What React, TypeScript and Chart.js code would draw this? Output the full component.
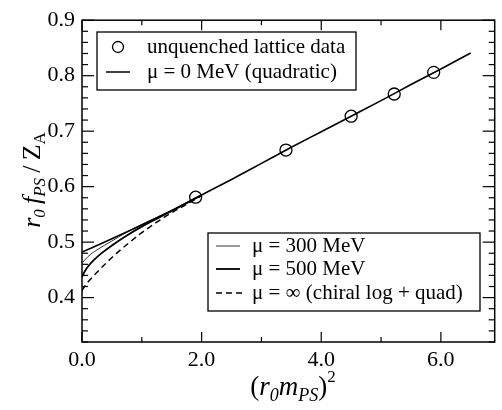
import { useEffect, useRef } from 'react';
import { Chart, registerables } from 'chart.js';

Chart.register(...registerables);

const FONT = '"Liberation Serif", "Times New Roman", serif';

// lattice data points
const dataX = [1.9, 3.41, 4.5, 5.22, 5.88];
const dataY = [0.581, 0.666, 0.727, 0.767, 0.806];

// mu = 0 MeV (quadratic)
const quadX = [0, 0.5, 1.0, 1.5, 2.0, 2.5, 3.0, 3.5, 4.0, 4.5, 5.0, 5.5, 6.0, 6.5];
const quadY = [0.482, 0.506, 0.531, 0.557, 0.585, 0.613, 0.642, 0.671, 0.699, 0.727, 0.755, 0.784, 0.812, 0.841];

// mu = 300 MeV
const mu300X = [0, 0.1, 0.25, 0.5, 0.75, 1.0, 1.5, 2.0];
const mu300Y = [0.462, 0.474, 0.486, 0.502, 0.518, 0.532, 0.557, 0.585];

// mu = 500 MeV
const mu500X = [0, 0.05, 0.1, 0.2, 0.35, 0.5, 0.75, 1.0, 1.5, 2.0];
const mu500Y = [0.437, 0.448, 0.456, 0.468, 0.482, 0.494, 0.512, 0.528, 0.556, 0.585];

// mu = infinity (chiral log + quad)
const infX = [0, 0.05, 0.1, 0.2, 0.4, 0.6, 0.8, 1.0, 1.25, 1.5, 1.75, 2.0];
const infY = [0.413, 0.421, 0.428, 0.44, 0.462, 0.482, 0.5, 0.517, 0.536, 0.553, 0.568, 0.584];

const X_MIN = 0;
const X_MAX = 6.9;
const Y_MIN = 0.32;
const Y_MAX = 0.9;
const X_MAJOR = [0, 2, 4, 6];
const X_MINOR = [1, 3, 5];
const Y_MAJOR = [0.4, 0.5, 0.6, 0.7, 0.8, 0.9];
const Y_MINOR = [0.32, 0.34, 0.36, 0.38, 0.42, 0.44, 0.46, 0.48, 0.52, 0.54, 0.56, 0.58, 0.62, 0.64, 0.66, 0.68, 0.72, 0.74, 0.76, 0.78, 0.82, 0.84, 0.86, 0.88];

const legendTop = ['unquenched lattice data', '\u03bc = 0 MeV (quadratic)'];
const legendBottom = ['\u03bc = 300 MeV', '\u03bc = 500 MeV', '\u03bc = \u221e (chiral log + quad)'];

const zip = (xs: number[], ys: number[]) => xs.map((x, i) => ({ x, y: ys[i] }));

type Piece = { t: string; it: boolean; size: number; dy: number };

function drawPieces(ctx: CanvasRenderingContext2D, pieces: Piece[], cx: number, baseline: number) {
  let total = 0;
  const widths: number[] = [];
  for (const p of pieces) {
    ctx.font = `${p.it ? 'italic ' : ''}${p.size}px ${FONT}`;
    const w = ctx.measureText(p.t).width;
    widths.push(w);
    total += w;
  }
  let x = cx - total / 2;
  ctx.textAlign = 'left';
  ctx.textBaseline = 'alphabetic';
  pieces.forEach((p, i) => {
    ctx.font = `${p.it ? 'italic ' : ''}${p.size}px ${FONT}`;
    ctx.fillText(p.t, x, baseline + p.dy);
    x += widths[i];
  });
}

const overlay = {
  id: 'overlay',
  afterDraw(chart: any) {
    const { ctx, chartArea: a, scales } = chart;
    const xs = scales.x;
    const ys = scales.y;
    ctx.save();
    ctx.strokeStyle = '#000';
    ctx.fillStyle = '#000';
    ctx.lineWidth = 1.5;
    ctx.strokeRect(a.left, a.top, a.right - a.left, a.bottom - a.top);

    const seg = (x1: number, y1: number, x2: number, y2: number) => {
      ctx.beginPath();
      ctx.moveTo(x1, y1);
      ctx.lineTo(x2, y2);
      ctx.stroke();
    };
    ctx.lineWidth = 1.2;
    const xt = (v: number, len: number) => {
      const px = xs.getPixelForValue(v);
      seg(px, a.bottom, px, a.bottom - len);
      seg(px, a.top, px, a.top + len);
    };
    X_MAJOR.forEach((v) => xt(v, 10));
    X_MINOR.forEach((v) => xt(v, 5));
    const yt = (v: number, len: number) => {
      const py = ys.getPixelForValue(v);
      seg(a.left, py, a.left + len, py);
      seg(a.right, py, a.right - len, py);
    };
    Y_MAJOR.forEach((v) => yt(v, 12));
    Y_MINOR.forEach((v) => yt(v, 6));

    // top legend
    ctx.fillStyle = '#fff';
    ctx.lineWidth = 1.3;
    ctx.fillRect(97, 32, 259, 58);
    ctx.strokeRect(97, 32, 259, 58);
    ctx.fillStyle = '#000';
    ctx.font = `21px ${FONT}`;
    ctx.textAlign = 'left';
    ctx.textBaseline = 'middle';
    ctx.beginPath();
    ctx.arc(118, 47, 5.5, 0, Math.PI * 2);
    ctx.stroke();
    ctx.fillText(legendTop[0], 147, 47);
    ctx.lineWidth = 1.5;
    seg(106, 72, 130, 72);
    ctx.fillText(legendTop[1], 147, 72);

    // bottom legend
    ctx.fillStyle = '#fff';
    ctx.lineWidth = 1.3;
    ctx.fillRect(208, 233, 272, 78);
    ctx.strokeRect(208, 233, 272, 78);
    ctx.fillStyle = '#000';
    ctx.lineWidth = 0.8;
    seg(216, 246, 240, 246);
    ctx.fillText(legendBottom[0], 252, 246);
    ctx.lineWidth = 1.8;
    seg(216, 269, 240, 269);
    ctx.fillText(legendBottom[1], 252, 269);
    ctx.lineWidth = 1.5;
    ctx.setLineDash([6, 4]);
    seg(216, 293, 242, 293);
    ctx.setLineDash([]);
    ctx.fillText(legendBottom[2], 252, 293);

    // y title
    ctx.save();
    ctx.translate(40, 180);
    ctx.rotate(-Math.PI / 2);
    drawPieces(
      ctx,
      [
        { t: 'r', it: true, size: 26, dy: 0 },
        { t: '0', it: true, size: 17, dy: 5 },
        { t: '\u2009f', it: true, size: 26, dy: 0 },
        { t: 'PS', it: true, size: 17, dy: 5 },
        { t: '\u2009/\u2009', it: false, size: 26, dy: 0 },
        { t: 'Z', it: false, size: 26, dy: 0 },
        { t: 'A', it: false, size: 17, dy: 5 },
      ],
      0,
      0
    );
    ctx.restore();

    // x title
    drawPieces(
      ctx,
      [
        { t: '(', it: false, size: 27, dy: 0 },
        { t: 'r', it: true, size: 27, dy: 0 },
        { t: '0', it: true, size: 18, dy: 6 },
        { t: 'm', it: true, size: 27, dy: 0 },
        { t: 'PS', it: true, size: 18, dy: 6 },
        { t: ')', it: false, size: 27, dy: 0 },
        { t: '2', it: false, size: 17, dy: -13 },
      ],
      293,
      395
    );
    ctx.restore();
  },
};

export default function App() {
  const ref = useRef<HTMLCanvasElement | null>(null);
  useEffect(() => {
    if (!ref.current) return;
    const chart = new Chart(ref.current, {
      type: 'scatter',
      data: {
        datasets: [
          {
            label: 'mu=inf',
            data: zip(infX, infY),
            showLine: true,
            borderColor: '#000',
            borderWidth: 1.5,
            borderDash: [6, 4],
            pointRadius: 0,
            cubicInterpolationMode: 'monotone',
          },
          {
            label: 'mu=500',
            data: zip(mu500X, mu500Y),
            showLine: true,
            borderColor: '#000',
            borderWidth: 1.8,
            pointRadius: 0,
            cubicInterpolationMode: 'monotone',
          },
          {
            label: 'mu=300',
            data: zip(mu300X, mu300Y),
            showLine: true,
            borderColor: '#000',
            borderWidth: 0.8,
            pointRadius: 0,
            cubicInterpolationMode: 'monotone',
          },
          {
            label: 'mu=0',
            data: zip(quadX, quadY),
            showLine: true,
            borderColor: '#000',
            borderWidth: 1.6,
            pointRadius: 0,
            cubicInterpolationMode: 'monotone',
          },
          {
            label: 'data',
            data: zip(dataX, dataY),
            showLine: false,
            borderColor: '#000',
            backgroundColor: 'rgba(0,0,0,0)',
            borderWidth: 1.3,
            pointRadius: 6,
            pointStyle: 'circle',
          },
        ],
      } as any,
      options: {
        animation: false,
        responsive: false,
        maintainAspectRatio: false,
        layout: { padding: { left: 0, top: 15, right: 5, bottom: 0 } },
        plugins: { legend: { display: false }, tooltip: { enabled: false }, title: { display: false } },
        scales: {
          x: {
            type: 'linear',
            min: X_MIN,
            max: X_MAX,
            grid: { display: false, drawTicks: false },
            border: { display: false },
            ticks: {
              padding: 5,
              color: '#000',
              font: { family: FONT, size: 22 },
              maxRotation: 0,
              autoSkip: false,
              callback: (v: any) => Number(v).toFixed(1),
            },
            afterBuildTicks: (axis: any) => {
              axis.ticks = X_MAJOR.map((v) => ({ value: v }));
            },
            afterFit: (axis: any) => {
              axis.height = 68;
            },
          },
          y: {
            type: 'linear',
            min: Y_MIN,
            max: Y_MAX,
            grid: { display: false, drawTicks: false },
            border: { display: false },
            ticks: {
              padding: 7,
              color: '#000',
              font: { family: FONT, size: 22 },
              autoSkip: false,
              callback: (v: any) => Number(v).toFixed(1),
            },
            afterBuildTicks: (axis: any) => {
              axis.ticks = Y_MAJOR.map((v) => ({ value: v }));
            },
            afterFit: (axis: any) => {
              axis.width = 82;
            },
          },
        },
      },
      plugins: [overlay],
    });
    return () => chart.destroy();
  }, []);
  return (
    <div style={{ position: 'fixed', left: 0, top: 0, width: 502, height: 410, background: '#fff' }}>
      <canvas ref={ref} width={502} height={410} style={{ width: 502, height: 410, display: 'block' }} />
    </div>
  );
}
